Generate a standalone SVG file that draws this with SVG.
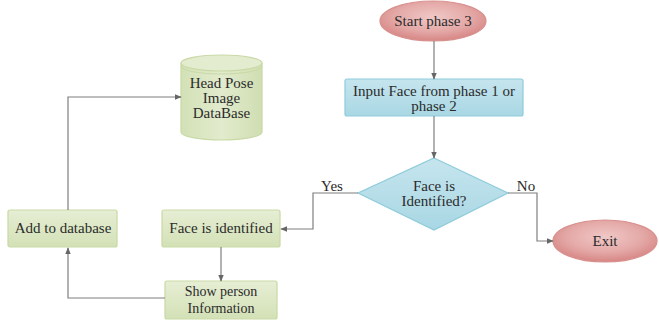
<svg xmlns="http://www.w3.org/2000/svg" width="659" height="322" viewBox="0 0 659 322">
<defs>
<linearGradient id="gGreen" x1="0" y1="0" x2="0" y2="1">
<stop offset="0" stop-color="#e6eed4"/>
<stop offset="1" stop-color="#d3e1b6"/>
</linearGradient>
<linearGradient id="gBlue" x1="0" y1="0" x2="0" y2="1">
<stop offset="0" stop-color="#c6e5ee"/>
<stop offset="1" stop-color="#a8d7e4"/>
</linearGradient>
<radialGradient id="gRed" cx="0.5" cy="0.4" r="0.6">
<stop offset="0" stop-color="#f0c8c7"/>
<stop offset="0.6" stop-color="#e4a9a7"/>
<stop offset="1" stop-color="#d68684"/>
</radialGradient>
<linearGradient id="gCyl" x1="0" y1="0" x2="1" y2="0">
<stop offset="0" stop-color="#d3e1b6"/>
<stop offset="0.5" stop-color="#e2ebcd"/>
<stop offset="1" stop-color="#d0deb2"/>
</linearGradient>
<marker id="arr" viewBox="0 0 10 10" refX="9" refY="5" markerWidth="7" markerHeight="7" orient="auto" markerUnits="userSpaceOnUse">
<path d="M0,1 L10,5 L0,9 z" fill="#666"/>
</marker>
</defs>
<style>
text{font-family:"Liberation Serif","Times New Roman",serif;font-size:15px;fill:#2b2b2b;text-anchor:middle}
.sm{font-size:14px}
.green{fill:url(#gGreen);stroke:#c9d9a6;stroke-width:1.2}
.blue{fill:url(#gBlue);stroke:#8ecbdb;stroke-width:1.2}
.red{fill:url(#gRed);stroke:#d8908e;stroke-width:1.2}
.conn path{fill:none;stroke:#7f7f7f;stroke-width:1.2;marker-end:url(#arr)}
</style>
<rect width="659" height="322" fill="#ffffff"/>

<g id="start">
<ellipse class="red" cx="433" cy="21" rx="53" ry="20"/>
<text x="433" y="26">Start phase 3</text>
</g>

<g id="input">
<rect class="blue" x="345" y="79" width="178" height="37" rx="2"/>
<text x="434" y="96">Input Face from phase 1 or</text>
<text x="434" y="111">phase 2</text>
</g>

<g id="decision">
<polygon class="blue" points="434,158 508,193 434,230 358,193"/>
<text x="434" y="191">Face is</text>
<text x="434" y="206">Identified?</text>
</g>

<g id="exit">
<ellipse class="red" cx="605" cy="241" rx="52" ry="21"/>
<text x="605" y="246">Exit</text>
</g>

<g id="identified">
<rect class="green" x="162" y="210" width="118" height="37" rx="2"/>
<text x="221" y="233">Face is identified</text>
</g>

<g id="show">
<rect class="green" x="165" y="281" width="112" height="38" rx="2"/>
<text class="sm" x="221" y="296">Show person</text>
<text class="sm" x="221" y="313">Information</text>
</g>

<g id="add">
<rect class="green" x="8" y="210" width="109" height="37" rx="2"/>
<text x="63" y="233">Add to database</text>
</g>

<g id="database">
<path d="M181,63 L181,132 A40.5,8 0 0 0 262,132 L262,63" fill="url(#gCyl)" stroke="#c9d9a6" stroke-width="1.2"/>
<ellipse cx="221.5" cy="63" rx="40.5" ry="8" fill="#e4ecd0" stroke="#c9d9a6" stroke-width="1.2"/>
<path d="M181,66 A40.5,8 0 0 0 262,66" fill="none" stroke="#c9d9a6" stroke-width="1"/>
<text x="221.5" y="88">Head Pose</text>
<text x="221.5" y="103">Image</text>
<text x="221.5" y="118">DataBase</text>
</g>

<g id="connectors" class="conn">
<path d="M434,41 L434,79"/>
<path d="M434,116 L434,158"/>
<path d="M358,193 L313,193 L313,229 L281,229"/>
<path d="M508,193 L537,193 L537,241 L553,241"/>
<path d="M221,247 L221,281"/>
<path d="M165,298 L68,298 L68,248"/>
<path d="M68,210 L68,97 L181,97"/>
</g>

<g id="labels">
<text x="332" y="191">Yes</text>
<text x="526" y="191">No</text>
</g>
</svg>
